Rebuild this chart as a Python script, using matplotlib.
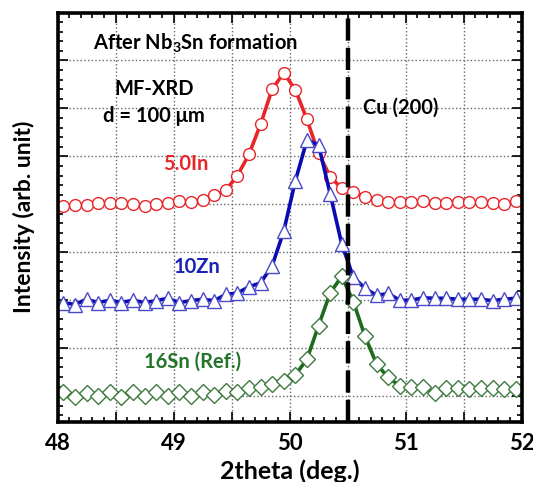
import matplotlib
matplotlib.use('Agg')
import matplotlib.pyplot as plt
from matplotlib.ticker import MultipleLocator, FuncFormatter

plt.rcParams['font.family'] = ['Lato', 'DejaVu Sans']
plt.rcParams['font.weight'] = 'bold'
plt.rcParams['mathtext.fontset'] = 'custom'
plt.rcParams['mathtext.bf'] = 'Lato:bold'
plt.rcParams['mathtext.rm'] = 'Lato:bold'
plt.rcParams['mathtext.default'] = 'bf'

# 2theta sampling (deg.)
two_theta = [48.05, 48.15, 48.25, 48.35, 48.45, 48.55, 48.65, 48.75, 48.85, 48.95,
             49.05, 49.15, 49.25, 49.35, 49.45, 49.55, 49.65, 49.75, 49.85, 49.95,
             50.05, 50.15, 50.25, 50.35, 50.45, 50.55, 50.65, 50.75, 50.85, 50.95,
             51.05, 51.15, 51.25, 51.35, 51.45, 51.55, 51.65, 51.75, 51.85, 51.95]

# intensities (arb. unit, curves stacked)
in50 = [4.96, 4.99, 4.99, 5.03, 5.03, 5.02, 5.00, 4.97, 5.00, 5.03,
        5.07, 5.04, 5.10, 5.19, 5.29, 5.60, 6.04, 6.67, 7.40, 7.74,
        7.39, 6.77, 6.06, 5.58, 5.33, 5.26, 5.16, 5.09, 5.05, 5.05,
        5.05, 5.06, 5.02, 5.02, 5.04, 5.04, 5.04, 5.02, 5.00, 5.07]
zn10 = [2.95, 2.91, 3.02, 2.95, 3.00, 2.95, 3.00, 2.95, 2.99, 3.04,
        2.95, 2.99, 3.02, 2.99, 3.12, 3.15, 3.28, 3.36, 3.72, 4.44,
        5.49, 6.34, 6.24, 5.22, 4.17, 3.48, 3.25, 3.10, 3.14, 3.00,
        3.00, 3.05, 3.04, 3.04, 3.02, 3.02, 3.02, 2.99, 3.02, 3.04]
sn16 = [1.09, 0.99, 1.07, 1.00, 1.09, 0.99, 1.08, 1.00, 1.08, 1.00,
        1.08, 1.00, 1.09, 1.02, 1.11, 1.09, 1.16, 1.19, 1.25, 1.32,
        1.44, 1.77, 2.47, 3.15, 3.50, 2.97, 2.25, 1.67, 1.39, 1.21,
        1.18, 1.18, 1.07, 1.16, 1.16, 1.14, 1.16, 1.16, 1.14, 1.15]

cu200 = 50.5

fig = plt.figure(figsize=(5.33, 4.82), dpi=100)
ax = fig.add_axes([0.108, 0.1255, 0.8705, 0.8485])

ax.plot(two_theta, in50, '-o', color='#e8262a', lw=2.6, ms=8.5,
        mfc='white', mec='#e8262a', mew=1.0)
ax.plot(two_theta, zn10, '-^', color='#0a0ab4', lw=2.6, ms=9.5,
        mfc='white', mec='#4a4ac8', mew=1.0)
ax.plot(two_theta, sn16, '-D', color='#1c6b1c', lw=2.6, ms=8,
        mfc='white', mec='#3f7a3f', mew=1.0)

ax.axvline(cu200, color='black', lw=3.2, dashes=(5.0, 1.6), zorder=5)

ax.set_xlim(48, 52)
ax.set_ylim(0.47, 9.0)
ax.xaxis.set_major_locator(MultipleLocator(0.5))
ax.xaxis.set_minor_locator(MultipleLocator(0.1))
ax.xaxis.set_major_formatter(FuncFormatter(lambda v, p: '%d' % v if abs(v - round(v)) < 1e-6 else ''))
ax.yaxis.set_major_locator(MultipleLocator(1))
ax.yaxis.set_minor_locator(MultipleLocator(0.2))
ax.set_yticklabels([])
ax.tick_params(which='both', direction='in', top=True, right=True, width=1.2)
ax.tick_params(which='major', length=7, labelsize=16, pad=8)
ax.tick_params(which='minor', length=3.5)
ax.grid(True, which='major', ls=':', color='#666666', lw=1.0)
ax.set_axisbelow(True)
for s in ax.spines.values():
    s.set_linewidth(2.6)

ax.set_xlabel('2theta (deg.)', fontsize=18, fontweight='bold', labelpad=4)
ax.set_ylabel('Intensity (arb. unit)', fontsize=16.5, fontweight='bold', labelpad=8)

ax.text(49.185, 8.35, 'After Nb$_3$Sn formation', fontsize=14.5, ha='center', va='center')
ax.text(48.836, 7.40, 'MF-XRD', fontsize=14.5, ha='center', va='center')
ax.text(48.832, 6.85, 'd = 100 μm', fontsize=14.5, ha='center', va='center')
ax.text(50.961, 7.02, 'Cu (200)', fontsize=14.5, ha='center', va='center')
ax.text(49.108, 5.85, '5.0In', fontsize=14.5, ha='center', va='center', color='#e8262a')
ax.text(49.203, 3.69, '10Zn', fontsize=14.5, ha='center', va='center', color='#1a22b8')
ax.text(49.168, 1.71, '16Sn (Ref.)', fontsize=14.5, ha='center', va='center', color='#23752a')

fig.savefig('out.png', dpi=100)
